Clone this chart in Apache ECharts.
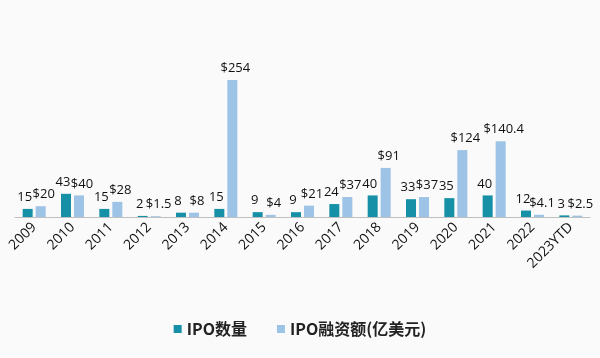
<!DOCTYPE html>
<html><head><meta charset="utf-8">
<script src="https://cdn.jsdelivr.net/npm/echarts@6/dist/echarts.min.js"></script>
<style>html,body{margin:0;padding:0;background:#fff}#c{width:600px;height:358px}</style>
</head><body><div id="c"></div>
<script>
const categories = ['2009','2010','2011','2012','2013','2014','2015','2016','2017','2018','2019','2020','2021','2022','2023YTD'];
const ipoCount = [15,43,15,2,8,15,9,9,24,40,33,35,40,12,3];
const ipoAmount = [20,40,28,1.5,8,254,4,21,37,91,37,124,140.4,4.1,2.5];
const seriesNames = ['IPO数量','IPO融资额(亿美元)'];

const font = '"Open Sans","Noto Sans CJK SC",sans-serif';
const cjk = '"Noto Sans CJK SC","Noto Sans",sans-serif';
const chart = echarts.init(document.getElementById('c'));
chart.setOption({
  backgroundColor: '#fafafa',
  animation: false,
  textStyle: {fontFamily: font},
  grid: {left: 15, right: 10, top: 80, bottom: 141, containLabel: false},
  legend: {
    bottom: 16, left: 'center', itemWidth: 8, itemHeight: 8, itemGap: 30,
    icon: 'rect',
    textStyle: {fontSize: 16, color: '#222', fontFamily: cjk, fontWeight: 'bold'},
    data: seriesNames
  },
  xAxis: {
    type: 'category', data: categories,
    axisLine: {lineStyle: {color: '#bfbfbf', width: 1}},
    axisTick: {show: false},
    axisLabel: {rotate: 45, fontSize: 14, color: '#111', margin: 8, interval: 0, fontFamily: font}
  },
  yAxis: {type: 'value', min: 0, max: 254, show: false, splitLine: {show: false}},
  series: [
    {name: seriesNames[0], type: 'bar', data: ipoCount, barWidth: 10, barGap: '30%',
     itemStyle: {color: '#1690a6'},
     label: {show: true, position: 'top', fontSize: 13, color: '#111', distance: 5, offset: [-3, 0], fontFamily: font}},
    {name: seriesNames[1], type: 'bar', data: ipoAmount, barWidth: 10,
     itemStyle: {color: '#9dc3e6'},
     label: {show: true, position: 'top', fontSize: 13, color: '#111', distance: 5, offset: [3, 0], fontFamily: font,
       formatter: p => '$' + p.value}}
  ]
});
</script></body></html>
